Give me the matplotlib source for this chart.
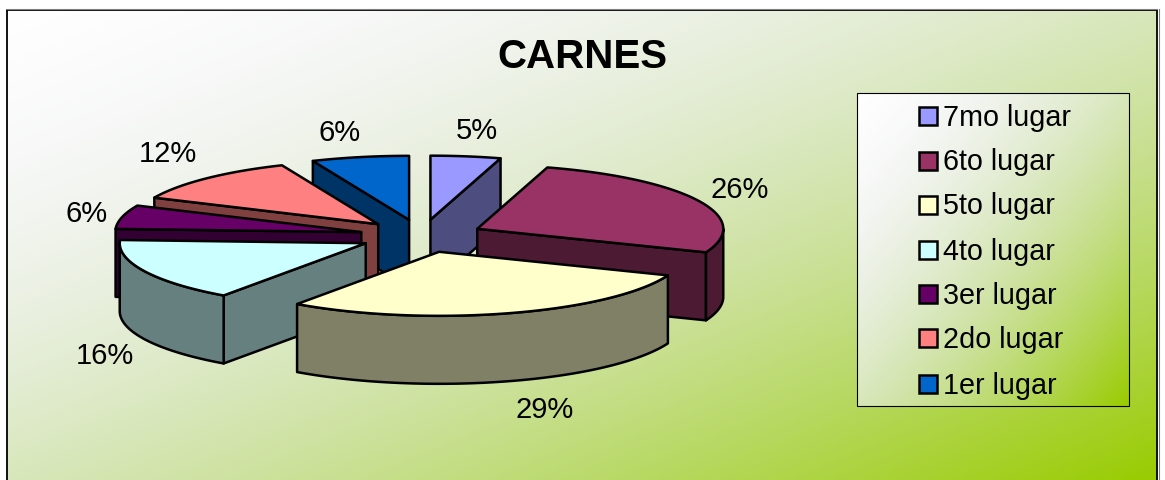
#!/usr/bin/env python3
"""Exploded 3D style pie: CARNES."""

import numpy as np
import matplotlib
matplotlib.use("Agg")
import matplotlib.pyplot as plt
from matplotlib.patches import Polygon, Rectangle

categories = ["7mo lugar", "6to lugar", "5to lugar", "4to lugar", "3er lugar", "2do lugar", "1er lugar"]
values = [4.6, 26.4, 28.8, 16, 6, 11.8, 6.4]
colors = ["#9999FF", "#993366", "#FFFFCC", "#CCFFFF", "#660066", "#FF8080", "#0066CC"]
title = "CARNES"

plt.rcParams["font.family"] = ["Liberation Sans", "DejaVu Sans"]

# pixel space of the picture
W, H = 1165, 480
CX, CY = 421.5, 236
RX, RY = 246, 64
EXPLODE_X, EXPLODE_Y = 62, 16.5
DEPTH = 68
LINE = "black"
LW = 1.8

label_xy = [(477, 131), (740, 190), (545, 410), (105, 356), (87, 214), (168, 154), (340, 133)]
legend_y = [116, 160.5, 205, 250, 294, 338, 384]


def gradient(ax, x0, y0, x1, y1, zorder):
    u, v = np.meshgrid(np.linspace(0, 1, 400), np.linspace(0, 1, 300))
    t = (u + v) / 2
    # the blue channel falls off later than red and green
    ramp = np.dstack([t ** 1.4, t ** 1.1, t ** 1.9])
    start = np.array([255, 255, 255]) / 255
    end = np.array([153, 204, 0]) / 255
    img = start + ramp * (end - start)
    ax.imshow(img, extent=(x0, x1, y1, y0), aspect="auto", zorder=zorder, interpolation="bilinear")


def rim(apex, angles, dy=0):
    return np.column_stack([apex[0] + RX * np.sin(angles), apex[1] - RY * np.cos(angles) + dy])


def draw_slice(ax, start, end, color):
    mid = (start + end) / 2
    apex = (CX + EXPLODE_X * np.sin(mid), CY - EXPLODE_Y * np.cos(mid))
    side = tuple(c * 0.5 for c in matplotlib.colors.to_rgb(color))
    style = dict(closed=True, facecolor=side, edgecolor=LINE, linewidth=LW, joinstyle="round")

    # cut faces turned towards the viewer
    for ang, visible in ((start, np.sin(start) < -1e-9), (end, np.sin(end) > 1e-9)):
        if visible:
            p = rim(apex, np.array([ang]))[0]
            ax.add_patch(Polygon([apex, p, (p[0], p[1] + DEPTH), (apex[0], apex[1] + DEPTH)], **style))

    # outer wall, front half only
    lo, hi = max(start, np.pi / 2), min(end, 3 * np.pi / 2)
    if hi > lo:
        arc = np.linspace(lo, hi, 80)
        ax.add_patch(Polygon(np.vstack([rim(apex, arc), rim(apex, arc[::-1], DEPTH)]), **style))

    arc = np.linspace(start, end, 120)
    top = np.vstack([[apex], rim(apex, arc)])
    ax.add_patch(Polygon(top, closed=True, facecolor=color, edgecolor=LINE, linewidth=LW, joinstyle="round"))


def main():
    fig = plt.figure(figsize=(W / 100, H / 100), dpi=100)
    ax = fig.add_axes([0, 0, 1, 1])

    gradient(ax, 7, 10, 1157, 480, 0)
    ax.plot([7, 7, 1157, 1157], [490, 10, 10, 490], color="black", lw=1.3, zorder=1)
    ax.plot([7, 1157], [8.5, 8.5], color="#808080", lw=0.8, zorder=1)
    ax.plot([1158.5, 1158.5], [9, 490], color="#808080", lw=0.8, zorder=1)

    edges = np.cumsum([0] + values) / sum(values) * 2 * np.pi
    order = sorted(range(len(values)), key=lambda i: -np.cos((edges[i] + edges[i + 1]) / 2))
    for i in order:
        draw_slice(ax, edges[i], edges[i + 1], colors[i])

    for value, (x, y) in zip(values, label_xy):
        ax.text(x, y, f"{value:.0f}%", fontsize=21, ha="center", va="center", color="black", zorder=5)

    ax.text(582, 57, title, fontsize=29, fontweight="bold", ha="center", va="center", zorder=5)

    # legend box with its own gradient
    gradient(ax, 857, 93, 1129, 406, 3)
    ax.add_patch(Rectangle((857, 93), 272, 313, fill=False, edgecolor="black", linewidth=0.8, zorder=4))
    for name, color, y in zip(categories, colors, legend_y):
        ax.add_patch(Rectangle((919, y - 9), 18, 18, facecolor=color, edgecolor="black", linewidth=1.8, zorder=4))
        ax.text(943, y + 1.5, name, fontsize=20.7, ha="left", va="center", zorder=5)

    ax.set_xlim(0, W)
    ax.set_ylim(H, 0)
    ax.axis("off")
    fig.savefig("out.png", dpi=100, facecolor="white")
    plt.close(fig)


if __name__ == "__main__":
    main()
